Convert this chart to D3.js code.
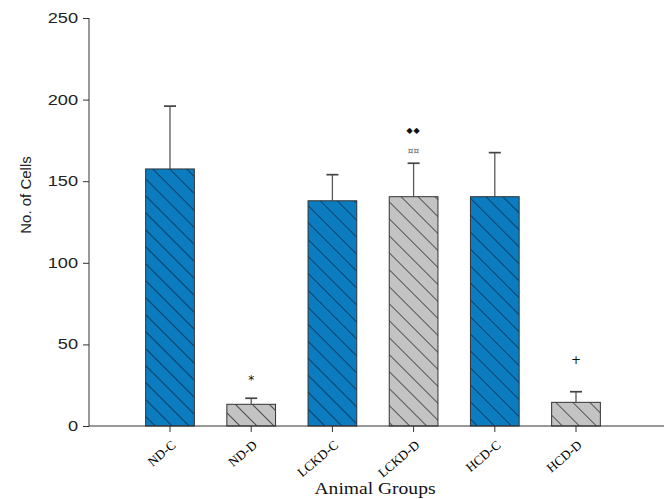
<!DOCTYPE html>
<html>
<head>
<meta charset="utf-8">
<script src="https://cdn.jsdelivr.net/npm/d3@7"></script>
<style>
  html, body { margin: 0; padding: 0; background: #fff; }
  svg { display: block; }
</style>
</head>
<body>
<script>
// Cell counts per animal group (mean with upper error bar)
const groups = ["ND-C", "ND-D", "LCKD-C", "LCKD-D", "HCD-C", "HCD-D"];
const means  = [157.5, 13.3, 138, 140.5, 140.5, 14.5];
const errors = [38.5, 3.7, 16, 20.5, 27, 6.5];
const kinds  = ["C", "D", "C", "D", "C", "D"];
// Significance marks stacked above the error bars (bottom to top)
const marks  = [[], ["*"], [], ["¤¤", "◆◆"], [], ["+"]];
const yTicks = [0, 50, 100, 150, 200, 250];

// Pixel gap between error-bar cap and each mark
const markGaps = [[], [21], [], [12, 33], [], [32]];

const W = 664, H = 499;
const svg = d3.select("body").append("svg").attr("width", W).attr("height", H);

const defs = svg.append("defs");
function hatch(id, fill, stroke) {
  const s = 12;
  const p = defs.append("pattern")
    .attr("id", id)
    .attr("patternUnits", "userSpaceOnUse")
    .attr("width", s).attr("height", s)
    .attr("patternTransform", "rotate(-45)");
  p.append("rect").attr("width", s).attr("height", s).attr("fill", fill);
  p.append("line").attr("x1", 0).attr("y1", 0).attr("x2", 0).attr("y2", s)
    .attr("stroke", stroke).attr("stroke-width", 1.5);
}
hatch("hatchC", "#0b7cc0", "#0d2a45");
hatch("hatchD", "#c3c3c3", "#2b2b2b");

const x = d3.scaleBand().domain(groups).range([129.4, 616.6]).paddingInner(0.4).paddingOuter(0.2);
const y = d3.scaleLinear().domain([0, 250]).range([426, 18]);

const data = groups.map((g, i) => ({ g, m: means[i], e: errors[i], k: kinds[i], marks: marks[i], gaps: markGaps[i] }));

// error bars (upper only)
const eb = svg.append("g").attr("stroke", "#5a5a5a").attr("stroke-width", 1.3);
data.forEach(d => {
  const cx = x(d.g) + x.bandwidth() / 2;
  eb.append("line").attr("x1", cx).attr("x2", cx).attr("y1", y(d.m)).attr("y2", y(d.m + d.e));
  eb.append("line").attr("x1", cx - 6).attr("x2", cx + 6).attr("y1", y(d.m + d.e)).attr("y2", y(d.m + d.e))
    .attr("stroke", "#444").attr("stroke-width", 1.7);
});

// bars
svg.append("g").selectAll("rect").data(data).join("rect")
  .attr("x", d => x(d.g))
  .attr("y", d => y(d.m))
  .attr("width", x.bandwidth())
  .attr("height", d => y(0) - y(d.m))
  .attr("fill", d => d.k === "C" ? "url(#hatchC)" : "url(#hatchD)")
  .attr("stroke", "#333")
  .attr("stroke-width", 1);

// significance marks
data.forEach(d => {
  const cx = x(d.g) + x.bandwidth() / 2;
  d.marks.forEach((t, j) => {
    const isDiamond = t.includes("◆");
    const isCurr = t.includes("¤");
    svg.append("text")
      .attr("x", cx)
      .attr("y", y(d.m + d.e) - d.gaps[j])
      .attr("text-anchor", "middle")
      .attr("font-family", "DejaVu Sans, sans-serif")
      .attr("font-size", isDiamond ? 8 : (isCurr ? 9 : 12))
      .attr("letter-spacing", isDiamond ? 1 : 0)
      .attr("fill", isCurr ? "#666" : "#111")
      .attr("dy", t === "*" ? "0.55em" : "0.35em")
      .text(t);
  });
});

// y axis
const yAxis = svg.append("g").attr("transform", "translate(89,0)")
  .call(d3.axisLeft(y).tickValues(yTicks).tickSize(6).tickPadding(11));
yAxis.select(".domain").attr("stroke", "#333").attr("d", `M0,${y(250)}V${y(0)}`);
yAxis.selectAll(".tick line").attr("stroke", "#333");
yAxis.selectAll(".tick text")
  .attr("font-family", "Liberation Sans, Arial, sans-serif")
  .attr("font-size", 14).attr("fill", "#222")
  .attr("x", -11 / 1.3)
  .attr("transform", "scale(1.3,1)");

// x axis
const xAxis = svg.append("g").attr("transform", `translate(0,${y(0)})`)
  .call(d3.axisBottom(x).tickSize(6).tickPadding(5));
xAxis.select(".domain").attr("stroke", "#333").attr("d", "M89,0H664");
xAxis.selectAll(".tick line").attr("stroke", "#333");
xAxis.selectAll(".tick text")
  .attr("font-family", "Liberation Serif, Times New Roman, serif")
  .attr("font-size", 13)
  .attr("fill", "#000")
  .attr("text-anchor", "end")
  .attr("x", -8)
  .attr("y", 20)
  .attr("dy", 0)
  .attr("transform", "rotate(-40)");

// axis titles
svg.append("text")
  .attr("x", 375).attr("y", 494)
  .attr("text-anchor", "middle")
  .attr("font-family", "Liberation Serif, Times New Roman, serif")
  .attr("font-size", 17).attr("fill", "#111")
  .attr("textLength", 121).attr("lengthAdjust", "spacingAndGlyphs")
  .text("Animal Groups");

svg.append("text")
  .attr("transform", "translate(31,195) rotate(-90)")
  .attr("text-anchor", "middle")
  .attr("font-family", "Liberation Sans, Arial, sans-serif")
  .attr("font-size", 15).attr("fill", "#222")
  .text("No. of Cells");
</script>
</body>
</html>
